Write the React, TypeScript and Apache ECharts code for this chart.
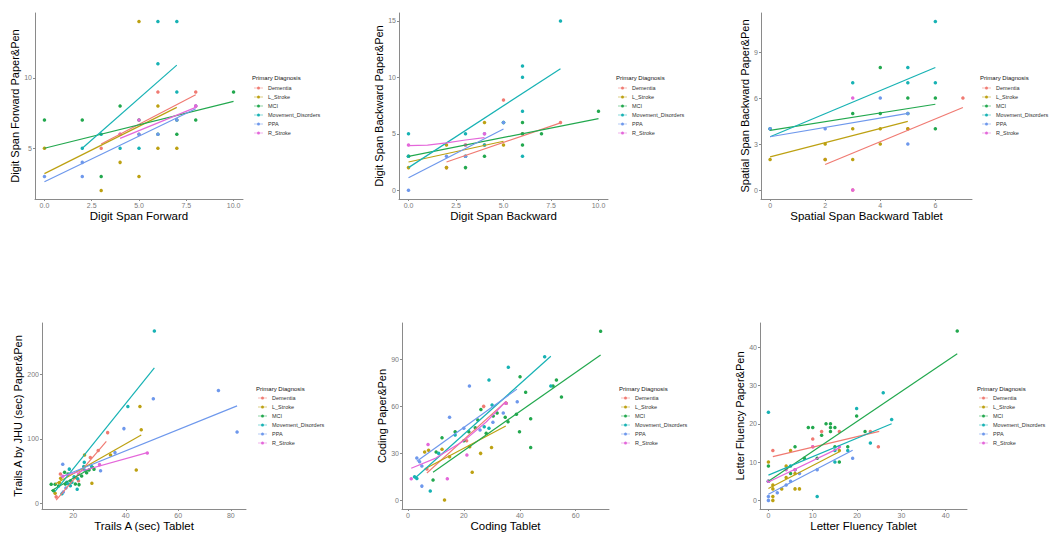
import React, { useEffect, useRef } from "react";
import * as echarts from "echarts";

const GROUPS = ["Dementia", "L_Stroke", "MCI", "Movement_Disorders", "PPA", "R_Stroke"];
const GROUP_COLORS = ["#F07A72", "#BDA112", "#22A84E", "#17B2B4", "#6E98EC", "#E467DA"];

// ---------- Panel 1: Digit Span Forward ----------
const dsfXTicks = [0, 2.5, 5, 7.5, 10];
const dsfYTicks = [5, 10];
const dsfPoints: Record<string, number[][]> = {
  Dementia: [[3, 5], [4, 6], [5, 6], [6, 9], [8, 9], [8, 8]],
  L_Stroke: [[0, 5], [3, 2], [4, 4], [5, 14], [5, 3], [6, 8], [6, 5], [7, 5]],
  MCI: [[0, 7], [2, 7], [4, 8], [5, 7], [6, 6], [7, 7], [8, 7], [10, 9], [7, 6], [3, 3]],
  Movement_Disorders: [[2, 5], [3, 6], [6, 14], [6, 11], [7, 14], [7, 9], [4, 5], [5, 5]],
  PPA: [[0, 3], [2, 4], [2, 3], [5, 6], [6, 6], [7, 7], [8, 8]],
  R_Stroke: [[4, 6], [5, 7], [8, 8]],
};
const dsfLines: Record<string, number[][]> = {
  Dementia: [[3, 5.3], [8, 8.8]],
  L_Stroke: [[0, 3.2], [7, 7.9]],
  MCI: [[0, 5.0], [10, 8.33]],
  Movement_Disorders: [[2, 5.0], [7, 10.9]],
  PPA: [[0, 2.63], [8, 7.8]],
  R_Stroke: [[4, 5.7], [8, 7.9]],
};

// ---------- Panel 2: Digit Span Backward ----------
const dsbXTicks = [0, 2.5, 5, 7.5, 10];
const dsbYTicks = [0, 5, 10, 15];
const dsbPoints: Record<string, number[][]> = {
  Dementia: [[2, 2], [4, 4], [5, 8], [6, 5], [8, 6]],
  L_Stroke: [[0, 2], [2, 4], [2, 2], [3, 4], [4, 6], [5, 4]],
  MCI: [[0, 3], [3, 3], [3, 2], [4, 3], [5, 6], [6, 6], [6, 4], [7, 5], [10, 7], [6, 5]],
  Movement_Disorders: [[0, 3], [0, 5], [3, 5], [5, 6], [6, 11], [6, 10], [6, 7], [6, 3], [8, 15], [4, 4]],
  PPA: [[0, 0], [2, 3], [3, 3], [4, 5], [5, 6]],
  R_Stroke: [[0, 4], [3, 4], [4, 5]],
};
const dsbLines: Record<string, number[][]> = {
  Dementia: [[2, 2.5], [8, 5.96]],
  L_Stroke: [[0, 2.5], [5, 4.34]],
  MCI: [[0, 3.0], [10, 6.34]],
  Movement_Disorders: [[0, 2.0], [8, 10.77]],
  PPA: [[0, 1.1], [5, 5.43]],
  R_Stroke: [[0, 3.95], [1, 4.0], [2, 4.2], [3, 4.45], [4, 4.65]],
};

// ---------- Panel 3: Spatial Span Backward ----------
const ssbXTicks = [0, 2, 4, 6];
const ssbYTicks = [0, 3, 6, 9];
const ssbPoints: Record<string, number[][]> = {
  Dementia: [[2, 2], [3, 0], [5, 4], [7, 6]],
  L_Stroke: [[0, 2], [2, 3], [2, 2], [3, 4], [3, 2], [4, 3], [4, 4], [5, 4]],
  MCI: [[0, 4], [3, 5], [4, 5], [4, 8], [5, 5], [5, 6], [6, 6], [6, 4]],
  Movement_Disorders: [[0, 4], [3, 7], [5, 8], [5, 7], [6, 11], [6, 7]],
  PPA: [[0, 4], [2, 4], [4, 6], [5, 3], [5, 5]],
  R_Stroke: [[3, 6], [3, 0]],
};
const ssbLines: Record<string, number[][]> = {
  Dementia: [[2, 1.67], [7, 5.39]],
  L_Stroke: [[0, 2.17], [5, 4.48]],
  MCI: [[0, 3.9], [6, 5.6]],
  Movement_Disorders: [[0, 3.48], [6, 8.0]],
  PPA: [[0, 3.48], [5, 5.0]],
  R_Stroke: [],
};

// ---------- Panel 4: Trails A ----------
const trlXTicks = [20, 40, 60, 80];
const trlYTicks = [0, 100, 200];
const trlPoints: Record<string, number[][]> = {
  Dementia: [[13.5, 10], [15.1, 45.5], [22, 35], [26.5, 71], [29.5, 82], [33.1, 109.6]],
  L_Stroke: [[13.1, 15.5], [14.7, 32], [15.2, 38.8], [21, 40], [24.3, 75], [27.1, 31], [34.2, 75], [44, 51.7], [45.4, 150], [45.9, 114]],
  MCI: [[11.6, 29.5], [13.1, 29.5], [12.5, 19.6], [14.4, 26.9], [16.7, 48], [17, 30], [18, 45.5], [19, 35], [20.8, 30], [22.2, 29], [23.2, 42.4], [25.1, 47.5], [26, 51.7], [27.9, 53]],
  Movement_Disorders: [[15.7, 15], [17.5, 32.6], [18.2, 30], [18.5, 53], [18.9, 27.4], [19.5, 32.6], [20.3, 41.3], [21.5, 21.7], [21.7, 38], [24, 57], [24.2, 63.6], [24.3, 51.7], [27, 57], [40.8, 150], [50.9, 267]],
  PPA: [[16, 60.5], [16.2, 17.6], [17.2, 23.8], [30.4, 50.6], [35.9, 78.6], [39.3, 115.8], [50.5, 162], [75.3, 175], [82.4, 110.6]],
  R_Stroke: [[16, 42], [22, 45], [30, 60], [48.2, 78]],
};
const trlLines: Record<string, number[][]> = {
  Dementia: [[13.5, 5], [32.6, 96]],
  L_Stroke: [[13.1, 30], [45.9, 106]],
  MCI: [[11.6, 19.6], [27.9, 57]],
  Movement_Disorders: [[13, 18], [50.9, 210]],
  PPA: [[16, 42], [82.4, 151]],
  R_Stroke: [[16, 42], [48.2, 78.6]],
};

// ---------- Panel 5: Coding ----------
const codXTicks = [0, 20, 40, 60];
const codYTicks = [0, 30, 60, 90];
const codPoints: Record<string, number[][]> = {
  Dementia: [[6.8, 20], [21, 38], [27.1, 60], [35.1, 62]],
  L_Stroke: [[6, 30.9], [7.4, 32], [12.2, 32.6], [13.1, 0.2], [14.9, 27.9], [22.1, 34.3], [23, 17.9], [26, 30], [29.9, 33.8], [35.1, 62]],
  MCI: [[9, 13], [10.1, 30.9], [12.2, 40], [16.9, 43.8], [20, 38], [21.8, 43.8], [24.1, 46.4], [25, 51.3], [26.1, 58], [28, 42.8], [30.5, 53.8], [31.9, 55.7], [34.8, 53], [35.8, 50.2], [38.8, 54.9], [39.9, 43.8], [40.1, 78.9], [42.1, 69], [43.9, 52.1], [43.9, 33.8], [51.9, 73], [53.1, 76.8], [54.9, 66], [68.9, 108]],
  Movement_Disorders: [[2.4, 15.1], [3.2, 14], [8, 6], [11, 30], [16.9, 41.7], [27.3, 47], [29, 46], [29, 76.8], [30.1, 60.9], [35.9, 84.9], [48.9, 91.7], [51.1, 73]],
  PPA: [[3.2, 27], [4.2, 24.7], [5, 21.9], [5, 9.1], [14.9, 53], [20, 46], [22, 73], [25.8, 44.9], [30.4, 49.8], [34.1, 55.7], [39.1, 63]],
  R_Stroke: [[1.2, 13.8], [7.2, 35.7], [14.1, 13.8], [21.1, 28.9], [35.1, 62]],
};
const codLines: Record<string, number[][]> = {
  Dementia: [[6.8, 17.5], [35, 63]],
  L_Stroke: [[6, 20], [35, 47.5]],
  MCI: [[9, 18], [68.9, 92.8]],
  Movement_Disorders: [[2.4, 14], [51.1, 92]],
  PPA: [[3.2, 25], [39, 71]],
  R_Stroke: [[1.2, 20.5], [10, 27], [20, 38], [28, 50], [35, 63]],
};

// ---------- Panel 6: Letter Fluency ----------
const lfXTicks = [0, 10, 20, 30, 40];
const lfYTicks = [0, 10, 20, 30, 40];
const lfPoints: Record<string, number[][]> = {
  Dementia: [[1, 13], [10, 14], [10, 16], [12, 18], [16, 18], [23, 18], [24.8, 14]],
  L_Stroke: [[0, 10], [1, 0], [1, 1], [1, 3], [1, 4], [3, 3], [4, 6], [4, 9], [5, 13], [6, 3], [6, 7], [7, 3], [16, 13]],
  MCI: [[0, 5], [0, 9], [5, 7], [6, 8], [6, 14], [8.1, 11], [9, 19], [10, 19], [11, 11], [12, 17], [13, 20], [14, 18], [14, 19], [14, 20], [15, 14], [15, 19], [16, 10], [17.9, 14], [19.9, 22], [21.8, 18], [42.6, 44.2]],
  Movement_Disorders: [[0, 5], [0, 23], [5, 9], [11, 1], [15, 10], [15, 13], [17.9, 13], [19.9, 24], [23, 15], [25.9, 28.1], [27.8, 21.1]],
  PPA: [[0, 0], [0, 1], [2, 2], [4, 4], [5, 5], [7, 7], [11, 8], [19, 11]],
  R_Stroke: [[0, 5], [4, 8], [6, 8], [10, 14], [16, 14]],
};
const lfLines: Record<string, number[][]> = {
  Dementia: [[1, 11.4], [25, 18]],
  L_Stroke: [[0, 3.1], [16, 12.7]],
  MCI: [[0, 5], [42.6, 38.3]],
  Movement_Disorders: [[0, 6.6], [27.8, 20]],
  PPA: [[0, 1.6], [19, 13.1]],
  R_Stroke: [[0, 4.8], [16, 13.7]],
};

const X_TITLES = ["Digit Span Forward", "Digit Span Backward", "Spatial Span Backward Tablet", "Trails A (sec) Tablet", "Coding Tablet", "Letter Fluency Tablet"];
const Y_TITLES = ["Digit Span Forward Paper&Pen", "Digit Span Backward Paper&Pen", "Spatial Span Backward Paper&Pen", "Trails A by JHU (sec) Paper&Pen", "Coding Paper&Pen", "Letter Fluency Paper&Pen"];
const LEGEND_TITLE = "Primary Diagnosis";

const PANEL_DATA = [
  { pts: dsfPoints, lines: dsfLines, xTicks: dsfXTicks, yTicks: dsfYTicks, xDec: 1 },
  { pts: dsbPoints, lines: dsbLines, xTicks: dsbXTicks, yTicks: dsbYTicks, xDec: 1 },
  { pts: ssbPoints, lines: ssbLines, xTicks: ssbXTicks, yTicks: ssbYTicks, xDec: 0 },
  { pts: trlPoints, lines: trlLines, xTicks: trlXTicks, yTicks: trlYTicks, xDec: 0 },
  { pts: codPoints, lines: codLines, xTicks: codXTicks, yTicks: codYTicks, xDec: 0 },
  { pts: lfPoints, lines: lfLines, xTicks: lfXTicks, yTicks: lfYTicks, xDec: 0 },
];

// layout (positions / ranges)
const LAYOUT = [
  { grid: { left: 35, top: 13, width: 208, height: 186 }, x: [-0.5, 10.5], y: [1.4, 14.6], yGap: 10, lgLeft: 254, lgTop: 85, ttX: 252, ttY: 78 },
  { grid: { left: 399, top: 13, width: 209, height: 186 }, x: [-0.5, 10.5], y: [-0.78, 15.7], yGap: 9, lgLeft: 618, lgTop: 85, ttX: 616, ttY: 78 },
  { grid: { left: 761, top: 13, width: 211, height: 186 }, x: [-0.33, 7.33], y: [-0.58, 11.55], yGap: 7, lgLeft: 982, lgTop: 85, ttX: 980, ttY: 78 },
  { grid: { left: 42, top: 323, width: 204, height: 186 }, x: [8.1, 85.8], y: [-8.8, 279.5], yGap: 15, lgLeft: 258, lgTop: 395, ttX: 256, ttY: 389 },
  { grid: { left: 402, top: 323, width: 207, height: 186 }, x: [-2.1, 71.9], y: [-5.5, 113.2], yGap: 12, lgLeft: 621, lgTop: 395, ttX: 619, ttY: 389 },
  { grid: { left: 760, top: 323, width: 207, height: 186 }, x: [-1.9, 44.8], y: [-2.25, 46.3], yGap: 10, lgLeft: 979, lgTop: 395, ttX: 977, ttY: 389 },
];

const FONT = "Liberation Sans, Arial, sans-serif";
const AXIS_GRAY = "#8a8a8a";
const LEGEND_ICON = "path://M0,1.2L9,1.2L9,1.8L0,1.8Z M6,1.5A1.5,1.5 0 1 1 3,1.5A1.5,1.5 0 1 1 6,1.5Z";

function buildOption() {
  const grid: any[] = [];
  const xAxis: any[] = [];
  const yAxis: any[] = [];
  const series: any[] = [];
  const legend: any[] = [];
  const graphic: any[] = [];

  PANEL_DATA.forEach((pd, i) => {
    const lay = LAYOUT[i];
    grid.push({ ...lay.grid, containLabel: false });
    xAxis.push({
      type: "value",
      gridIndex: i,
      min: lay.x[0],
      max: lay.x[1],
      name: X_TITLES[i],
      nameLocation: "middle",
      nameGap: 8,
      nameTextStyle: { fontSize: 11.5, color: "#000", fontFamily: FONT },
      axisLine: { show: true, onZero: false, lineStyle: { color: AXIS_GRAY, width: 1 } },
      axisTick: { show: true, length: 2, customValues: pd.xTicks, lineStyle: { color: AXIS_GRAY } },
      axisLabel: {
        customValues: pd.xTicks,
        fontSize: 7,
        color: "#7a7a7a",
        margin: 3,
        fontFamily: FONT,
        formatter: (v: number) => v.toFixed(pd.xDec),
      },
      splitLine: { show: false },
    });
    yAxis.push({
      type: "value",
      gridIndex: i,
      min: lay.y[0],
      max: lay.y[1],
      name: Y_TITLES[i],
      nameLocation: "middle",
      nameGap: lay.yGap,
      nameTextStyle: { fontSize: 11, color: "#000", fontFamily: FONT },
      axisLine: { show: true, onZero: false, lineStyle: { color: AXIS_GRAY, width: 1 } },
      axisTick: { show: true, length: 2, customValues: pd.yTicks, lineStyle: { color: AXIS_GRAY } },
      axisLabel: {
        customValues: pd.yTicks,
        fontSize: 7,
        color: "#7a7a7a",
        margin: 3,
        fontFamily: FONT,
        formatter: (v: number) => String(v),
      },
      splitLine: { show: false },
    });

    GROUPS.forEach((g, gi) => {
      series.push({
        name: g,
        type: "scatter",
        xAxisIndex: i,
        yAxisIndex: i,
        data: pd.pts[g],
        symbol: "circle",
        symbolSize: 3.5,
        itemStyle: { color: GROUP_COLORS[gi], opacity: 1 },
        silent: true,
        z: 2,
      });
    });
    GROUPS.forEach((g, gi) => {
      series.push({
        name: g,
        type: "line",
        xAxisIndex: i,
        yAxisIndex: i,
        data: pd.lines[g],
        showSymbol: false,
        symbol: "none",
        itemStyle: { color: GROUP_COLORS[gi] },
        lineStyle: { color: GROUP_COLORS[gi], width: 1.2 },
        silent: true,
        z: 3,
      });
    });

    legend.push({
      orient: "vertical",
      left: lay.lgLeft,
      top: lay.lgTop,
      padding: 0,
      itemGap: 3,
      itemWidth: 9,
      itemHeight: 3,
      icon: LEGEND_ICON,
      selectedMode: false,
      data: GROUPS,
      textStyle: { fontSize: 5.5, color: "#333", fontFamily: FONT },
    });
    graphic.push({
      type: "text",
      x: lay.ttX,
      y: lay.ttY,
      style: {
        text: LEGEND_TITLE,
        fontSize: 6,
        fill: "#111",
        fontFamily: FONT,
        verticalAlign: "middle",
        align: "left",
      },
    });
  });

  return {
    animation: false,
    backgroundColor: "#ffffff",
    grid,
    xAxis,
    yAxis,
    series,
    legend,
    graphic,
  };
}

export default function App() {
  const ref = useRef<HTMLDivElement>(null);
  useEffect(() => {
    if (!ref.current) return;
    const chart = echarts.init(ref.current, undefined, { renderer: "svg" });
    chart.setOption(buildOption());
    return () => chart.dispose();
  }, []);
  return (
    <div
      ref={ref}
      style={{ position: "absolute", left: 0, top: 0, width: 1050, height: 550, background: "#fff" }}
    />
  );
}
